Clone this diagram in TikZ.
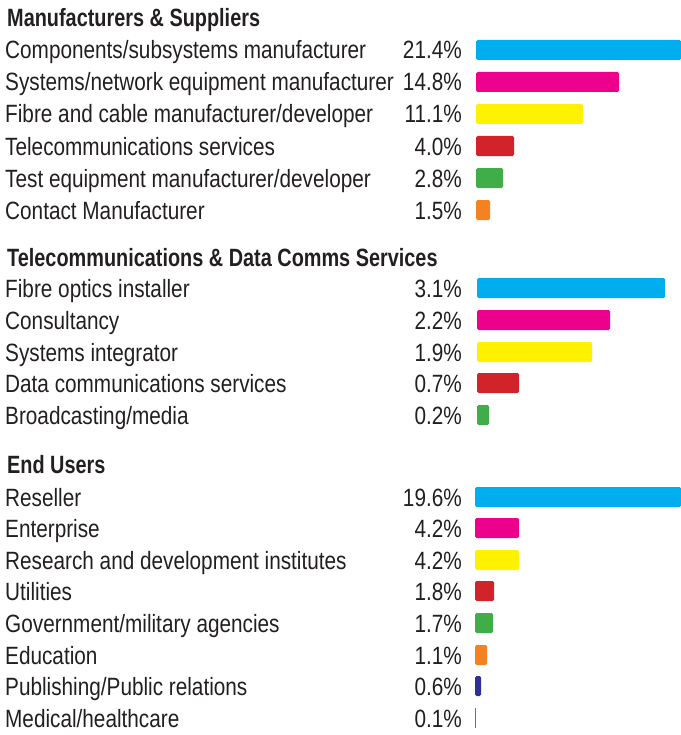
\documentclass[tikz,border=0pt]{standalone}
\usepackage{fontspec}
\setmainfont{Liberation Sans}[FakeStretch=0.83]
\newfontfamily\headfont{Liberation Sans}[FakeStretch=0.795]
\usepackage{xcolor}
\definecolor{txt}{HTML}{231F20}
\definecolor{barcyan}{HTML}{00AEEF}
\definecolor{barmag}{HTML}{EC008C}
\definecolor{baryel}{HTML}{FFF200}
\definecolor{barred}{HTML}{D2232A}
\definecolor{bargreen}{HTML}{3FAE49}
\definecolor{barorange}{HTML}{F58220}
\definecolor{barnavy}{HTML}{2E3192}
\definecolor{barline}{HTML}{6D6E71}

\begin{document}
\begin{tikzpicture}[x=1bp, y=-1bp,
  head/.style = {anchor=base west, inner sep=0, text=txt, font=\fontsize{25bp}{30bp}\headfont\bfseries},
  lbl/.style = {anchor=base west, inner sep=0, text=txt, font=\fontsize{25bp}{30bp}\selectfont},
  pct/.style = {anchor=base east, inner sep=0, text=txt, font=\fontsize{25bp}{30bp}\selectfont},
  bar/.style = {anchor=west, rectangle, inner sep=0, minimum height=20bp, rounded corners=1.5bp}]
  \useasboundingbox (0,0) rectangle (681,735);

  % Manufacturers & Suppliers
  \draw (7, 27) node[head] (h1) {Manufacturers \& Suppliers};
  \draw (5, 59) node[lbl] (l11) {Components/subsystems manufacturer};
  \draw (5, 91) node[lbl] (l12) {Systems/network equipment manufacturer};
  \draw (5, 123) node[lbl] (l13) {Fibre and cable manufacturer/developer};
  \draw (5, 155) node[lbl] (l14) {Telecommunications services};
  \draw (5, 187) node[lbl] (l15) {Test equipment manufacturer/developer};
  \draw (5, 219) node[lbl] (l16) {Contact Manufacturer};

  \draw (462, 59) node[pct] (p11) {21.4\%};
  \draw (462, 91) node[pct] (p12) {14.8\%};
  \draw (462, 123) node[pct] (p13) {11.1\%};
  \draw (462, 155) node[pct] (p14) {4.0\%};
  \draw (462, 187) node[pct] (p15) {2.8\%};
  \draw (462, 219) node[pct] (p16) {1.5\%};

  \draw (476, 50) node[bar, fill=barcyan, minimum width=205bp] (b11) {};
  \draw (476, 82) node[bar, fill=barmag, minimum width=143bp] (b12) {};
  \draw (476, 114) node[bar, fill=baryel, minimum width=107bp] (b13) {};
  \draw (476, 146) node[bar, fill=barred, minimum width=38bp] (b14) {};
  \draw (476, 178) node[bar, fill=bargreen, minimum width=27bp] (b15) {};
  \draw (476, 210) node[bar, fill=barorange, minimum width=14bp] (b16) {};

  % Telecommunications & Data Comms Services
  \draw (7, 266) node[head] (h2) {Telecommunications \& Data Comms Services};
  \draw (5, 297) node[lbl] (l21) {Fibre optics installer};
  \draw (5, 329) node[lbl] (l22) {Consultancy};
  \draw (5, 361) node[lbl] (l23) {Systems integrator};
  \draw (5, 392) node[lbl] (l24) {Data communications services};
  \draw (5, 424) node[lbl] (l25) {Broadcasting/media};

  \draw (462, 297) node[pct] (p21) {3.1\%};
  \draw (462, 329) node[pct] (p22) {2.2\%};
  \draw (462, 361) node[pct] (p23) {1.9\%};
  \draw (462, 392) node[pct] (p24) {0.7\%};
  \draw (462, 424) node[pct] (p25) {0.2\%};

  \draw (477, 288) node[bar, fill=barcyan, minimum width=188bp] (b21) {};
  \draw (477, 320) node[bar, fill=barmag, minimum width=133bp] (b22) {};
  \draw (477, 352) node[bar, fill=baryel, minimum width=115bp] (b23) {};
  \draw (477, 383) node[bar, fill=barred, minimum width=42bp] (b24) {};
  \draw (477, 415) node[bar, fill=bargreen, minimum width=12bp] (b25) {};

  % End Users
  \draw (7, 473) node[head] (h3) {End Users};
  \draw (5, 506) node[lbl] (l31) {Reseller};
  \draw (5, 537) node[lbl] (l32) {Enterprise};
  \draw (5, 569) node[lbl] (l33) {Research and development institutes};
  \draw (5, 600) node[lbl] (l34) {Utilities};
  \draw (5, 632) node[lbl] (l35) {Government/military agencies};
  \draw (5, 664) node[lbl] (l36) {Education};
  \draw (5, 695) node[lbl] (l37) {Publishing/Public relations};
  \draw (5, 727) node[lbl] (l38) {Medical/healthcare};

  \draw (462, 506) node[pct] (p31) {19.6\%};
  \draw (462, 537) node[pct] (p32) {4.2\%};
  \draw (462, 569) node[pct] (p33) {4.2\%};
  \draw (462, 600) node[pct] (p34) {1.8\%};
  \draw (462, 632) node[pct] (p35) {1.7\%};
  \draw (462, 664) node[pct] (p36) {1.1\%};
  \draw (462, 695) node[pct] (p37) {0.6\%};
  \draw (462, 727) node[pct] (p38) {0.1\%};

  \draw (475, 497) node[bar, fill=barcyan, minimum width=206bp] (b31) {};
  \draw (475, 528) node[bar, fill=barmag, minimum width=44bp] (b32) {};
  \draw (475, 560) node[bar, fill=baryel, minimum width=44bp] (b33) {};
  \draw (475, 591) node[bar, fill=barred, minimum width=19bp] (b34) {};
  \draw (475, 623) node[bar, fill=bargreen, minimum width=18bp] (b35) {};
  \draw (475, 655) node[bar, fill=barorange, minimum width=12bp] (b36) {};
  \draw (475, 686) node[bar, fill=barnavy, minimum width=6bp] (b37) {};
  \draw (475, 718) node[bar, fill=barline, minimum width=1bp, rounded corners=0pt] (b38) {};
\end{tikzpicture}
\end{document}
